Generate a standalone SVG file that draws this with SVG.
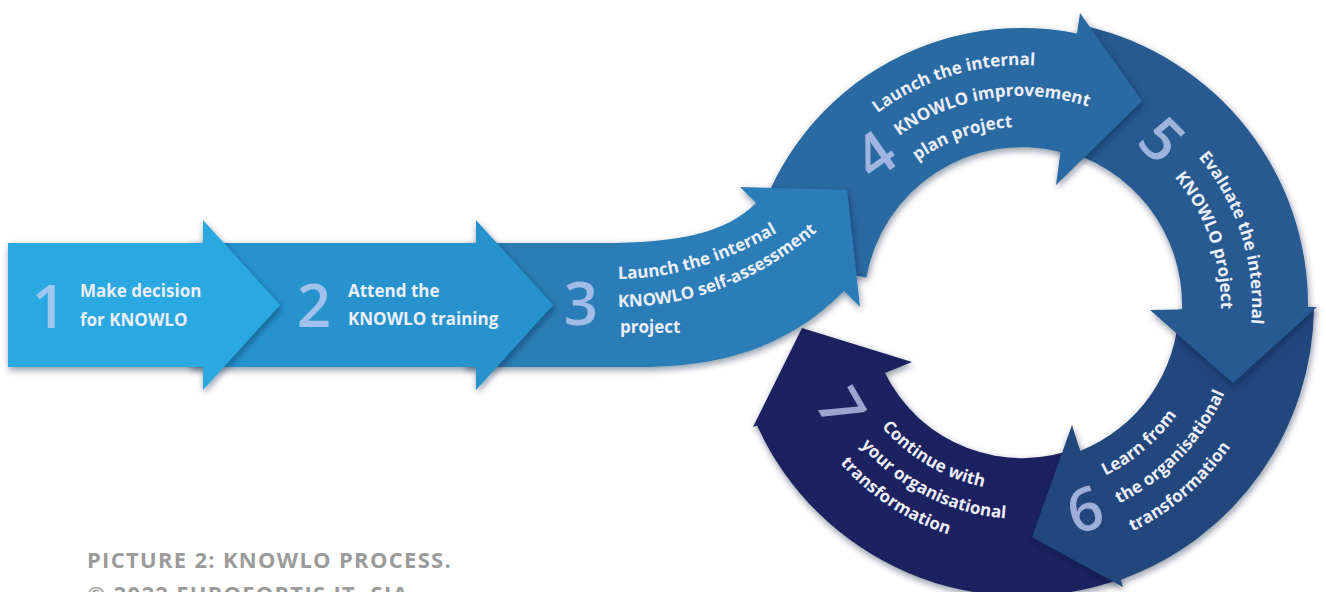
<svg xmlns="http://www.w3.org/2000/svg" width="1326" height="592" viewBox="0 0 1326 592">
<defs>
<filter id="sh" x="-15%" y="-15%" width="135%" height="135%">
<feDropShadow dx="1" dy="3" stdDeviation="3.5" flood-color="#0b1830" flood-opacity="0.45"/>
</filter>
<path id="p3a" d="M 618,279 Q 700,279 785,228"/>
<path id="p3b" d="M 618,307 Q 735,307 830,220"/>
<path id="p3c" d="M 620,333 L 760,333"/>
<path id="p4a" d="M 877.6,113.3 A 240 240 0 0 1 1142,97.2"/>
<path id="p4b" d="M 899.1,135.9 A 209 209 0 0 1 1141.9,133.8"/>
<path id="p4c" d="M 917.4,161 A 178 178 0 0 1 1111,150.8"/>
<path id="p5a" d="M 1198.2,157.2 A 230 230 0 0 1 1248.5,344.9"/>
<path id="p5b" d="M 1174.4,177.1 A 199 199 0 0 1 1218,339.5"/>
<path id="p6a" d="M 1105.3,475.8 A 190 190 0 0 0 1209.1,338"/>
<path id="p6b" d="M 1118.9,503.6 A 221 221 0 0 0 1242.2,324.3"/>
<path id="p6c" d="M 1132.5,531.5 A 252 252 0 0 0 1270.2,348.8"/>
<path id="p7a" d="M 881.6,427 A 186 186 0 0 0 1022,491"/>
<path id="p7b" d="M 860.5,445.4 A 214 214 0 0 0 1059.2,515.7"/>
<path id="p7c" d="M 840.1,463.1 A 241 241 0 0 0 1022,546"/>
</defs>
<style>
.arw{filter:url(#sh)}
.lbl{font-family:"Open Sans","Liberation Sans",sans-serif;font-weight:700;font-size:17px;fill:#eceefa}
.num{font-family:"Open Sans","Liberation Sans",sans-serif;font-weight:600;font-size:60px;fill:#c8d0f4;fill-opacity:0.75}
.cap{font-family:"Open Sans","Liberation Sans",sans-serif;font-weight:700;font-size:22px;fill:#9b9b9b;letter-spacing:1.3px}
</style>
<rect width="1326" height="592" fill="#ffffff"/>

<g id="n7">
<path class="arw" fill="#1c2460" d="M 1079,447.2 L 1120.5,578.9 A 291 291 0 0 1 757,425.4 L 753,427 L 802,328 L 912,362 L 885,373.1 A 153 153 0 0 0 1079,447.2 Z"/>
<text class="num" transform="translate(841,408) rotate(60)" text-anchor="middle" y="21">7</text>
<text class="lbl"><textPath href="#p7a">Continue with</textPath></text>
<text class="lbl"><textPath href="#p7b">your organisational</textPath></text>
<text class="lbl"><textPath href="#p7c">transformation</textPath></text>
</g>

<g id="n6">
<path class="arw" fill="#23467d" d="M 1178.9,309.4 L 1314,307 A 292 292 0 0 1 1120.7,579.7 L 1123,587 L 1032,537 L 1072,425 L 1080.2,450.9 A 157 157 0 0 0 1178.9,309.4 Z"/>
<text class="num" transform="translate(1085,510) rotate(-17)" text-anchor="middle" y="21">6</text>
<text class="lbl"><textPath href="#p6a">Learn from</textPath></text>
<text class="lbl"><textPath href="#p6b">the organisational</textPath></text>
<text class="lbl"><textPath href="#p6c">transformation</textPath></text>
</g>

<g id="n5">
<path class="arw" fill="#285a90" d="M 1058,149.1 L 1086.3,26.3 A 286 286 0 0 1 1308,307.2 L 1317,307 L 1233,383 L 1150,310 L 1182,309.4 A 160 160 0 0 0 1058,149.1 Z"/>
<text class="num" transform="translate(1162,140) rotate(45)" text-anchor="middle" y="21">5</text>
<text class="lbl"><textPath href="#p5a">Evaluate the internal</textPath></text>
<text class="lbl"><textPath href="#p5b">KNOWLO project</textPath></text>
</g>

<g id="n4">
<path class="arw" fill="#2b6aa2" d="M 866.4,277.6 L 749.2,256.9 A 277 277 0 0 1 1077,33.5 L 1080,13 L 1142,101 L 1056,185 L 1060.5,152 A 158 158 0 0 0 866.4,277.6 Z"/>
<text class="num" transform="translate(875,155) rotate(-35)" text-anchor="middle" y="21">4</text>
<text class="lbl"><textPath href="#p4a">Launch the internal</textPath></text>
<text class="lbl"><textPath href="#p4b">KNOWLO improvement</textPath></text>
<text class="lbl"><textPath href="#p4c">plan project</textPath></text>
</g>

<g id="n3">
<path class="arw" fill="#2b7db6" d="M 465,243 L 600,243 C 680,243 726,233 756,203 L 740,187 L 847,190 L 860,307 L 844,291 C 799,336 740,367 640,367 L 465,367 Z"/>
<text class="num" x="581" y="325" text-anchor="middle">3</text>
<text class="lbl"><textPath href="#p3a">Launch the internal</textPath></text>
<text class="lbl"><textPath href="#p3b">KNOWLO self-assessment</textPath></text>
<text class="lbl"><textPath href="#p3c">project</textPath></text>
</g>

<g id="n2">
<path class="arw" fill="#2593cd" d="M 190,243 L 476,243 L 476,220 L 553,305 L 476,390 L 476,367 L 190,367 Z"/>
<text class="num" x="314" y="327" text-anchor="middle">2</text>
<text class="lbl" x="348" y="297">Attend the</text>
<text class="lbl" x="348" y="325">KNOWLO training</text>
</g>

<g id="n1">
<path class="arw" fill="#2aa8e0" d="M 8,243 L 203,243 L 203,220 L 280,305 L 203,390 L 203,367 L 8,367 Z"/>
<text class="num" x="49" y="328" text-anchor="middle">1</text>
<text class="lbl" x="80" y="297">Make decision</text>
<text class="lbl" x="80" y="326">for KNOWLO</text>
</g>

<g id="caption">
<text class="cap" x="87" y="568">PICTURE 2: KNOWLO PROCESS.</text>
<text class="cap" x="87" y="602">© 2022 EUROFORTIS IT, SIA</text>
</g>
</svg>
